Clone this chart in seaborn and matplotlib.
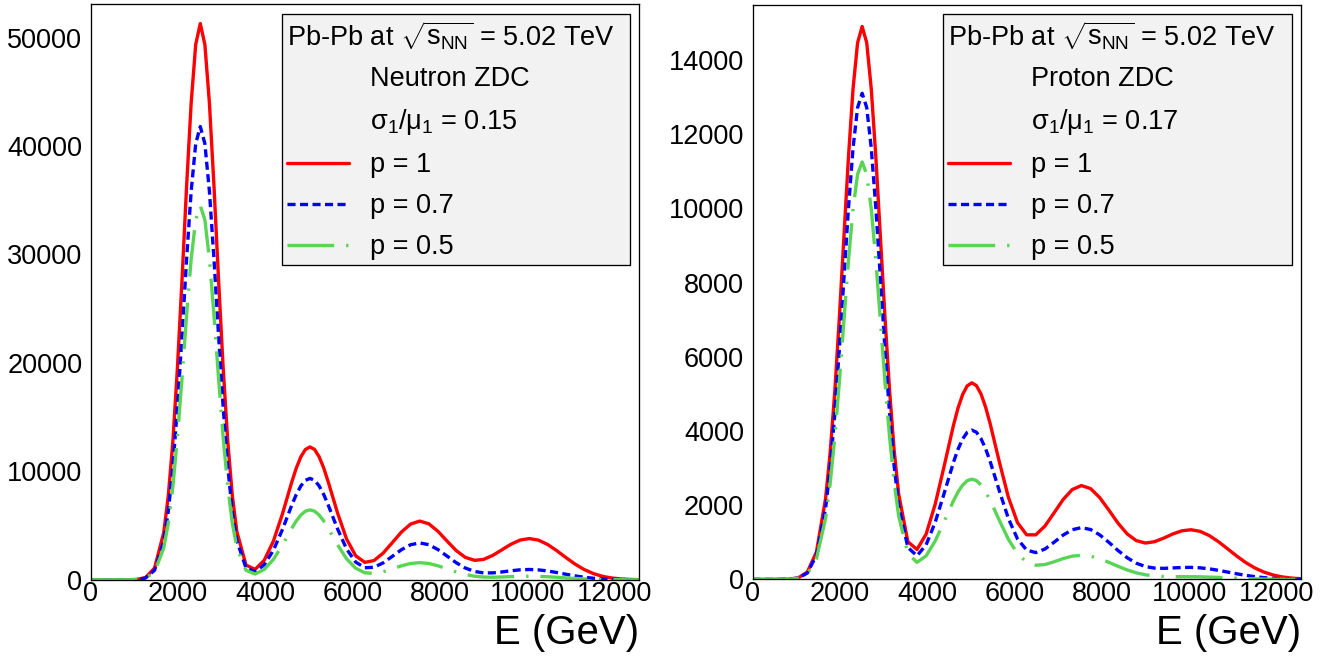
import matplotlib
matplotlib.use("Agg")
import matplotlib.pyplot as plt
import numpy as np
import pandas as pd
import seaborn as sns
from matplotlib.lines import Line2D
from matplotlib.ticker import MultipleLocator

# ---------------- data ----------------
energy = ([0, 209, 418, 628, 837, 1046, 1255, 1464, 1673]
          + [1778, 1883, 1987, 2092, 2196, 2301, 2405, 2510, 2615, 2719, 2824, 2928,
             3033, 3138, 3242, 3347]
          + [3556, 3765, 3974, 4183, 4393, 4602]
          + [4706, 4811, 4915, 5020, 5125, 5229, 5334, 5438]
          + [5648, 5857, 6066, 6275, 6484, 6693, 6903, 7112, 7321, 7530, 7739, 7948,
             8158, 8367, 8576, 8785, 8994, 9203, 9413, 9622, 9831, 10040, 10249,
             10458, 10668, 10877, 11086, 11295, 11504, 11713, 11923, 12132, 12341,
             12550])

neutron_p1 = ([0, 0, 0, 0, 3, 27, 198, 1083, 4345]
              + [7746, 12794, 19556, 27671, 36249, 43964, 49361, 51300, 49361, 43965,
                 36251, 27677, 19568, 12818, 7792, 4433]
              + [1362, 960, 1807, 3568, 6118, 8998]
              + [10297, 11341, 12018, 12253, 12022, 11351, 10316, 9029]
              + [6202, 3766, 2214, 1609, 1772, 2459, 3423, 4403, 5136, 5415, 5165, 4476,
                 3566, 2693, 2067, 1795, 1883, 2251, 2769, 3288, 3667, 3803, 3657, 3257,
                 2685, 2050, 1449, 948, 574, 322, 167, 80, 36, 15])
neutron_p07 = ([0, 0, 0, 0, 2, 22, 162, 882, 3540]
               + [6312, 10425, 15934, 22547, 29536, 35823, 40220, 41800, 40220, 35824,
                  29538, 22551, 15943, 10443, 6347, 3607]
               + [1095, 743, 1381, 2723, 4669, 6868]
               + [7860, 8656, 9172, 9352, 9175, 8662, 7872, 6888]
               + [4722, 2847, 1632, 1115, 1153, 1560, 2158, 2773, 3232, 3404, 3239, 2788,
                  2182, 1573, 1083, 770, 635, 639, 724, 834, 921, 952, 914, 814, 671,
                  512, 362, 237, 143, 80, 42, 20, 9, 4])
neutron_p05 = ([0, 0, 0, 0, 2, 18, 133, 728, 2922]
               + [5210, 8604, 13151, 18609, 24378, 29567, 33196, 34500, 33196, 29568,
                  24379, 18612, 13157, 8616, 5234, 2968]
               + [875, 534, 955, 1879, 3221, 4738]
               + [5422, 5971, 6327, 6451, 6329, 5974, 5427, 4747]
               + [3246, 1936, 1064, 649, 584, 740, 1007, 1289, 1502, 1581, 1504, 1293,
                  1009, 722, 487, 330, 253, 237, 258, 292, 321, 331, 318, 283, 233, 178,
                  126, 82, 50, 28, 15, 7, 3, 1])

proton_p1 = ([0, 0, 0, 1, 7, 41, 197, 739, 2180]
             + [3420, 5053, 7031, 9214, 11370, 13213, 14459, 14901, 14461, 13217, 11377,
                9227, 7054, 5094, 3489, 2293]
             + [1018, 806, 1219, 2030, 3082, 4161]
             + [4623, 4985, 5216, 5298, 5224, 5002, 4651, 4206]
             + [3179, 2216, 1531, 1202, 1201, 1436, 1793, 2155, 2423, 2529, 2447, 2205,
                1867, 1517, 1227, 1045, 980, 1016, 1113, 1225, 1310, 1338, 1294, 1180,
                1015, 823, 628, 451, 305, 195, 117, 66, 35, 18])
proton_p07 = ([0, 0, 0, 1, 6, 36, 173, 650, 1917]
              + [3006, 4442, 6182, 8101, 9997, 11617, 12712, 13101, 12713, 11620, 10002,
                 8111, 6200, 4473, 3058, 2003]
              + [862, 636, 932, 1543, 2342, 3162]
              + [3512, 3787, 3963, 4024, 3967, 3797, 3528, 3187]
              + [2395, 1644, 1091, 791, 722, 818, 1001, 1195, 1340, 1395, 1344, 1200,
                 998, 779, 584, 437, 346, 305, 298, 309, 321, 324, 312, 284, 244, 198,
                 151, 109, 73, 47, 28, 16, 8, 4])
proton_p05 = ([0, 0, 0, 1, 5, 31, 149, 558, 1646]
              + [2582, 3815, 5309, 6957, 8585, 9977, 10917, 11250, 10918, 9979, 8589,
                 6964, 5321, 3836, 2617, 1704]
              + [700, 459, 633, 1038, 1573, 2124]
              + [2358, 2543, 2661, 2702, 2663, 2548, 2366, 2135]
              + [1598, 1083, 693, 464, 381, 400, 474, 561, 627, 651, 626, 557, 459, 353,
                 255, 177, 124, 93, 79, 74, 73, 72, 69, 62, 53, 43, 33, 24, 16, 10, 6,
                 3, 2, 1])

p_labels = ["p = 1", "p = 0.7", "p = 0.5"]
header = r"Pb-Pb at $\sqrt{\mathrm{s}_{\mathrm{NN}}}$ = 5.02 TeV"
detectors = ["Neutron ZDC", "Proton ZDC"]
ratios = ["σ$_1$/μ$_1$ = 0.15", "σ$_1$/μ$_1$ = 0.17"]
x_title = "E (GeV)"

# ---------------- style ----------------
sns.set_style("white")
plt.rcParams.update({
    "font.family": ["Liberation Sans", "DejaVu Sans"],
    "mathtext.fontset": "custom",
    "mathtext.rm": "Liberation Sans",
    "mathtext.it": "Liberation Sans:italic",
    "mathtext.bf": "Liberation Sans:bold",
    "lines.scale_dashes": False,
    "axes.edgecolor": "black",
    "axes.linewidth": 0.95,
    "text.color": "black",
    "axes.labelcolor": "black",
    "xtick.color": "black",
    "ytick.color": "black",
})

colors = {"p = 1": "#ff0000", "p = 0.7": "#0000ff", "p = 0.5": "#59d454"}
dash_map = {"p = 1": "", "p = 0.7": (5.8, 3.2), "p = 0.5": (33.6, 8.6, 1.7, 8.6)}


def long_frame(curves):
    parts = [pd.DataFrame({"E": energy, "N": vals, "p": lab})
             for lab, vals in zip(p_labels, curves)]
    return pd.concat(parts, ignore_index=True)


W, H = 1341, 659
fig = plt.figure(figsize=(W / 100, H / 100), dpi=100)
ax1 = fig.add_axes([90.6 / W, 1 - 579.8 / H, (639.3 - 90.6) / W, (579.8 - 4) / H])
ax2 = fig.add_axes([752.5 / W, 1 - 579.4 / H, (1301 - 752.5) / W, (579.4 - 5) / H])

panels = [
    (ax1, [neutron_p1, neutron_p07, neutron_p05], 53100, 10000, 2000, 0, 0.3494, 0.6337, 0.9826),
    (ax2, [proton_p1, proton_p07, proton_p05], 15480, 2000, 500, 1, 0.3479, 0.6351, 0.9843),
]

for ax, curves, ymax, ymaj, ymin_, idx, lx, lw, ly in panels:
    df = long_frame(curves)
    sns.lineplot(data=df, x="E", y="N", hue="p", style="p",
                 hue_order=p_labels, style_order=p_labels,
                 palette=colors, dashes=dash_map, linewidth=2.4,
                 legend=False, ax=ax, sort=False)
    ax.set_xlim(0, 12556)
    ax.set_ylim(0, ymax)
    ax.xaxis.set_major_locator(MultipleLocator(2000))
    ax.xaxis.set_minor_locator(MultipleLocator(500))
    ax.yaxis.set_major_locator(MultipleLocator(ymaj))
    ax.yaxis.set_minor_locator(MultipleLocator(ymin_))
    ax.tick_params(axis="both", which="both", direction="in", top=False, right=False,
                   width=0.95, colors="black", labelsize=19.5)
    ax.tick_params(axis="y", which="major", length=12.2, pad=6)
    ax.tick_params(axis="y", which="minor", length=6.1)
    ax.tick_params(axis="x", which="major", length=11, pad=1)
    ax.tick_params(axis="x", which="minor", length=5.5)
    ax.set_ylabel("")
    ax.set_xlabel(x_title, fontsize=29, loc="right", labelpad=5, color="black")
    for sp in ax.spines.values():
        sp.set_visible(True)
        sp.set_linewidth(0.95)
        sp.set_color("black")

    blank = Line2D([], [], linestyle="none")
    handles = [blank, blank] + list(ax.get_lines()[:3])
    labels = [detectors[idx], ratios[idx]] + p_labels
    leg = ax.legend(handles=handles, labels=labels, title=header,
                    loc="upper left", bbox_to_anchor=(lx, 0, lw, ly), mode="expand",
                    borderaxespad=0, fontsize=19.5, title_fontsize=19.5,
                    alignment="left", frameon=True, fancybox=False, shadow=False,
                    framealpha=1, facecolor="#f2f2f2", edgecolor="black",
                    borderpad=0.18, labelspacing=0.55, handlelength=2.3,
                    handletextpad=0.75, handleheight=0.7, labelcolor="black")
    leg.get_frame().set_linewidth(0.95)
    leg.get_title().set_color("black")

fig.savefig("out.png", dpi=100)
